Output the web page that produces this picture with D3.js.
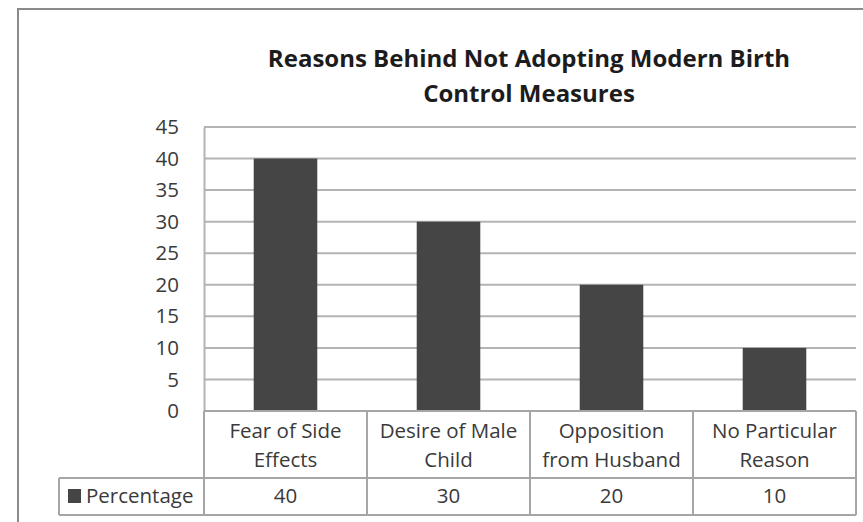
<!DOCTYPE html>
<html>
<head>
<meta charset="utf-8">
<script src="https://cdn.jsdelivr.net/npm/d3@7"></script>
<style>
  html, body { margin: 0; padding: 0; background: #fff; }
  svg { display: block; font-family: "Open Sans", Lato, sans-serif; }
</style>
</head>
<body>
<svg id="chart" width="863" height="522"></svg>
<script>
// Survey results: reasons given for not using modern birth control
const titleLines = ["Reasons Behind Not Adopting Modern Birth", "Control Measures"];
const categories = [
  ["Fear of Side", "Effects"],
  ["Desire of Male", "Child"],
  ["Opposition", "from Husband"],
  ["No Particular", "Reason"]
];
const seriesName = "Percentage";
const percentages = [40, 30, 20, 10];
const yTicks = [0, 5, 10, 15, 20, 25, 30, 35, 40, 45];

const svg = d3.select("#chart");
const fontFamily = "'Open Sans', Lato, sans-serif";
const gridColor = "#b4b4b4";
const tableColor = "#a6a6a6";
const barColor = "#454545";
const textColor = "#3a3a3a";
const bodySize = 20.5;

// chart-area frame (runs off the right and bottom edges)
svg.append("rect")
  .attr("x", 18).attr("y", 9)
  .attr("width", 900).attr("height", 600)
  .attr("fill", "none").attr("stroke", "#8a8a8a").attr("stroke-width", 2);

// title
const title = svg.append("text")
  .attr("text-anchor", "middle")
  .attr("font-weight", "bold")
  .attr("font-size", 24)
  .attr("fill", "#1c1c1c");
title.selectAll("tspan").data(titleLines).join("tspan")
  .attr("x", 529)
  .attr("y", (d, i) => 67 + i * 35)
  .text(d => d);

// plot area
const plot = { left: 204, right: 856, top: 127, bottom: 411 };
const keys = categories.map(c => c.join(" "));

const x = d3.scaleBand().domain(keys).range([plot.left, plot.right]).padding(0);
const y = d3.scaleLinear().domain([0, 45]).range([plot.bottom, plot.top]);

// horizontal gridlines
svg.append("g").selectAll("line").data(yTicks.filter(t => t > 0)).join("line")
  .attr("x1", plot.left).attr("x2", plot.right)
  .attr("y1", d => y(d)).attr("y2", d => y(d))
  .attr("stroke", gridColor).attr("stroke-width", 2);

// value axis
const yAxis = svg.append("g")
  .attr("transform", `translate(${plot.left},0)`)
  .call(d3.axisLeft(y).tickValues(yTicks).tickSize(0).tickPadding(25));
yAxis.select(".domain").attr("stroke", gridColor).attr("stroke-width", 2);
yAxis.selectAll("text")
  .attr("font-family", fontFamily)
  .attr("font-size", bodySize)
  .attr("fill", textColor);

// bars
const barWidth = x.bandwidth() * 0.39;
svg.append("g").selectAll("rect").data(percentages).join("rect")
  .attr("x", (d, i) => x(keys[i]) + (x.bandwidth() - barWidth) / 2)
  .attr("y", d => y(d))
  .attr("width", barWidth)
  .attr("height", d => y(0) - y(d))
  .attr("fill", barColor);

// data table below the plot
const rowTop = plot.bottom, rowMid = 478, rowBottom = 515;
const headerLeft = 59;
const table = svg.append("g")
  .attr("stroke", tableColor).attr("stroke-width", 2).attr("fill", "none");
table.append("line").attr("x1", plot.left).attr("x2", plot.right).attr("y1", rowTop).attr("y2", rowTop);
table.append("line").attr("x1", headerLeft).attr("x2", plot.right).attr("y1", rowMid).attr("y2", rowMid);
table.append("line").attr("x1", headerLeft).attr("x2", plot.right).attr("y1", rowBottom).attr("y2", rowBottom);
table.append("line").attr("x1", headerLeft).attr("x2", headerLeft).attr("y1", rowMid).attr("y2", rowBottom);
const colEdges = keys.map(k => x(k)).concat([plot.right]);
table.selectAll(".col").data(colEdges).join("line")
  .attr("x1", d => d).attr("x2", d => d)
  .attr("y1", rowTop).attr("y2", rowBottom);

// category labels
const catText = svg.append("g").selectAll("text").data(categories).join("text")
  .attr("text-anchor", "middle")
  .attr("font-size", bodySize)
  .attr("fill", textColor);
catText.selectAll("tspan").data((d, i) => d.map(line => ({ line, i }))).join("tspan")
  .attr("x", d => x(keys[d.i]) + x.bandwidth() / 2)
  .attr("y", (d, j) => 438 + j * 29)
  .text(d => d.line);

// values row
svg.append("g").selectAll("text").data(percentages).join("text")
  .attr("x", (d, i) => x(keys[i]) + x.bandwidth() / 2)
  .attr("y", 503)
  .attr("text-anchor", "middle")
  .attr("font-size", bodySize)
  .attr("fill", textColor)
  .text(d => d);

// legend key + series name
svg.append("rect")
  .attr("x", 68).attr("y", 489).attr("width", 13).attr("height", 14)
  .attr("fill", barColor);
svg.append("text")
  .attr("x", 86).attr("y", 503)
  .attr("font-size", bodySize)
  .attr("fill", textColor)
  .text(seriesName);
</script>
</body>
</html>
